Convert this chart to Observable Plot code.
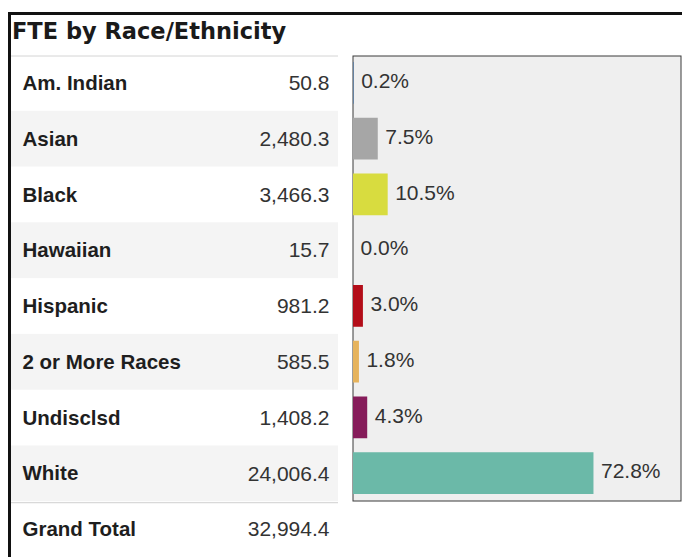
<!DOCTYPE html>
<html>
<head>
<meta charset="utf-8">
<script src="https://cdn.jsdelivr.net/npm/d3@7"></script>
<script src="https://cdn.jsdelivr.net/npm/@observablehq/plot@0.6"></script>
<style>
  html, body { margin: 0; padding: 0; background: #fff; }
  #frame { position: absolute; left: 8px; top: 12px; width: 674px; height: 545px;
           border-left: 3px solid #111; border-top: 3px solid #111; box-sizing: border-box; }
  #title { position: absolute; left: 12px; top: 20px; font: bold 22.5px/23px "DejaVu Sans", sans-serif;
           color: #1a1a1a; white-space: nowrap; }
  #table { position: absolute; left: 11px; top: 55px; }
  #bars { position: absolute; left: 352px; top: 55px; }
</style>
</head>
<body>
<div id="frame"></div>
<div id="title">FTE by Race/Ethnicity</div>
<div id="table"></div>
<div id="bars"></div>
<script>
const categories = ["Am. Indian", "Asian", "Black", "Hawaiian", "Hispanic", "2 or More Races", "Undisclsd", "White"];
const fteValues = [50.8, 2480.3, 3466.3, 15.7, 981.2, 585.5, 1408.2, 24006.4];
const pctValues = [0.2, 7.5, 10.5, 0.0, 3.0, 1.8, 4.3, 72.8];
const barColors = ["#4e79a7", "#a6a6a6", "#d8dc3f", "#9c6fb0", "#b30d19", "#e6b35c", "#861c5a", "#6bb9a8"];
const totalLabel = "Grand Total";
const totalFte = 32994.4;

const fmt = d3.format(",.1f");
const rows = categories.map((c, i) => ({cat: c, fte: fteValues[i], pct: pctValues[i]}));
const tableRows = [...rows, {cat: totalLabel, fte: totalFte}];

const tableH = 502;
const bw = tableH / tableRows.length;

const table = Plot.plot({
  width: 327, height: tableH, margin: 0,
  style: {fontFamily: "'Liberation Sans', Arial, sans-serif", background: "transparent", overflow: "visible"},
  y: {domain: tableRows.map(d => d.cat), padding: 0, round: false, axis: null},
  marks: [
    Plot.cell(tableRows.filter((d, i) => i % 2 === 1 && i < categories.length), {y: "cat", fill: "#f4f4f4"}),
    Plot.ruleY([categories[0]], {stroke: "#d4d4d4", dy: -bw / 2 + 0.5}),
    Plot.ruleY([totalLabel], {stroke: "#cfcfcf", dy: -bw / 2 + 1}),
    Plot.text(tableRows, {y: "cat", text: "cat", frameAnchor: "left", textAnchor: "start", dx: 11, fontWeight: "bold", fontSize: 20.5, fill: "#1e1e1e"}),
    Plot.text(tableRows, {y: "cat", text: d => fmt(d.fte), frameAnchor: "right", textAnchor: "end", dx: -9, fontSize: 21, fill: "#333"})
  ]
});
document.getElementById("table").appendChild(table);

const bars = Plot.plot({
  width: 329, height: 446, margin: 0,
  style: {fontFamily: "'Liberation Sans', Arial, sans-serif", background: "transparent", overflow: "visible"},
  x: {domain: [0, 99], range: [1, 328], axis: null},
  y: {domain: categories, padding: 0, round: false, axis: null},
  color: {domain: categories, range: barColors},
  marks: [
    Plot.frame({fill: "#efefef", stroke: "#3a3a3a", inset: 0.5}),
    Plot.barX(rows, {x: "pct", y: "cat", fill: "cat", insetTop: 7, insetBottom: 7}),
    Plot.text(rows, {x: "pct", y: "cat", text: d => d.pct.toFixed(1) + "%", textAnchor: "start", dx: 7, dy: -2, fontSize: 21, fill: "#333"})
  ]
});
document.getElementById("bars").appendChild(bars);
</script>
</body>
</html>
